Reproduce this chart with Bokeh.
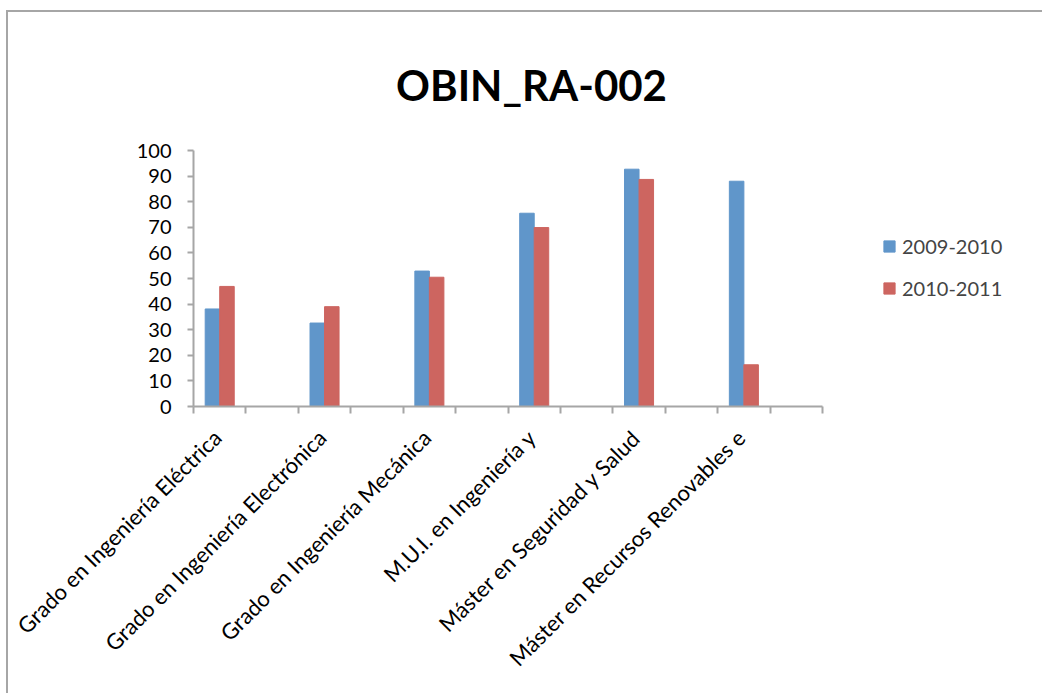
from math import pi
from bokeh.plotting import figure
from bokeh.models import Range1d, FixedTicker, Legend, LegendItem, Label, ColumnDataSource
from bokeh.embed import file_html
from bokeh.resources import INLINE

# ---- data ----
chart_title = "OBIN_RA-002"
categories = [
    "Grado en Ingeniería Eléctrica",
    "Grado en Ingeniería Electrónica",
    "Grado en Ingeniería Mecánica",
    "M.U.I. en Ingeniería y",
    "Máster en Seguridad y Salud",
    "Máster en Recursos Renovables e",
]
series_names = ["2009-2010", "2010-2011"]
values_2009_2010 = [38.1, 32.6, 52.9, 75.5, 92.7, 88.0]
values_2010_2011 = [46.9, 39.0, 50.5, 69.9, 88.7, 16.3]
y_ticks = [0, 10, 20, 30, 40, 50, 60, 70, 80, 90, 100]
y_max = 100
n_slots = 12  # category slots on the axis (labelled every other slot)

# ---- styling / layout (pixels) ----
FONT = "Lato"
BLUE = "#6096CA"
RED = "#CD6560"
AXIS = "#A6A6A6"

W, H = 1036, 683
ML, MT = 185, 8            # frame offsets inside the canvas
AXIS_W, AXIS_H = 629, 256   # length of the drawn x axis / y axis
FRAME_W, FRAME_H = 840, 386

p = figure(
    width=W, height=H, output_backend="svg", toolbar_location=None,
    x_range=Range1d(0, n_slots * FRAME_W / AXIS_W),
    y_range=Range1d(0, y_max * FRAME_H / AXIS_H),
    min_border_left=ML, min_border_right=W - ML - FRAME_W,
    min_border_top=MT, min_border_bottom=H - MT - FRAME_H,
)
p.margin = (10, 0, 0, 6)
p.styles = {"border-left": f"2px solid {AXIS}", "border-top": f"2px solid {AXIS}"}
p.outline_line_color = None
p.xgrid.visible = False
p.ygrid.visible = False
p.background_fill_color = "white"
p.border_fill_color = "white"

centers = [2 * i + 0.5 for i in range(len(categories))]
bw = 0.277
src = ColumnDataSource(dict(
    xa=[c - bw / 2 for c in centers],
    xb=[c + bw / 2 for c in centers],
    a=values_2009_2010,
    b=values_2010_2011,
))
r1 = p.vbar(x="xa", top="a", width=bw, source=src, fill_color=BLUE, line_color=BLUE)
r2 = p.vbar(x="xb", top="b", width=bw, source=src, fill_color=RED, line_color=RED)

# x axis: labels anchored near each slot centre (as in the original)
label_shift = -0.05
label_pos = [c + label_shift for c in centers]
xa = p.xaxis[0]
xa.bounds = (0, n_slots)
xa.ticker = FixedTicker(ticks=label_pos, minor_ticks=list(range(n_slots + 1)))
xa.major_label_overrides = {c: name for c, name in zip(label_pos, categories)}
xa.major_label_orientation = pi / 4
xa.major_tick_out = 0
xa.major_tick_in = 0
xa.minor_tick_out = 7
xa.minor_tick_in = 0
xa.minor_tick_line_color = AXIS
xa.axis_line_color = AXIS
xa.axis_line_width = 2
xa.minor_tick_line_width = 2
xa.major_label_text_font = FONT
xa.major_label_text_font_size = "22px"
xa.major_label_text_color = "black"
xa.major_label_standoff = 20

# y axis
ya = p.yaxis[0]
ya.bounds = (0, y_max)
ya.ticker = FixedTicker(ticks=y_ticks)
ya.major_tick_out = 6
ya.major_tick_in = 0
ya.minor_tick_line_color = None
ya.major_tick_line_color = AXIS
ya.major_tick_line_width = 2
ya.axis_line_color = AXIS
ya.axis_line_width = 2
ya.major_label_text_font = FONT
ya.major_label_text_font_size = "20px"
ya.major_label_text_color = "black"
ya.major_label_standoff = 16

# title (frame-relative screen position)
p.add_layout(Label(
    x=338, y=322, x_units="screen", y_units="screen", text=chart_title,
    text_align="center", text_baseline="alphabetic",
    text_font=FONT, text_font_size="42px", text_font_style="bold", text_color="black",
))

legend = Legend(
    items=[LegendItem(label=series_names[0], renderers=[r1]),
           LegendItem(label=series_names[1], renderers=[r2])],
    location=(689, 106), orientation="vertical",
    glyph_width=14, glyph_height=14, label_standoff=6, spacing=18,
    padding=0, margin=0, border_line_color=None, background_fill_alpha=0,
    label_text_font=FONT, label_text_font_size="20px",
)
p.add_layout(legend)

open("out.html", "w").write(file_html(p, INLINE))
